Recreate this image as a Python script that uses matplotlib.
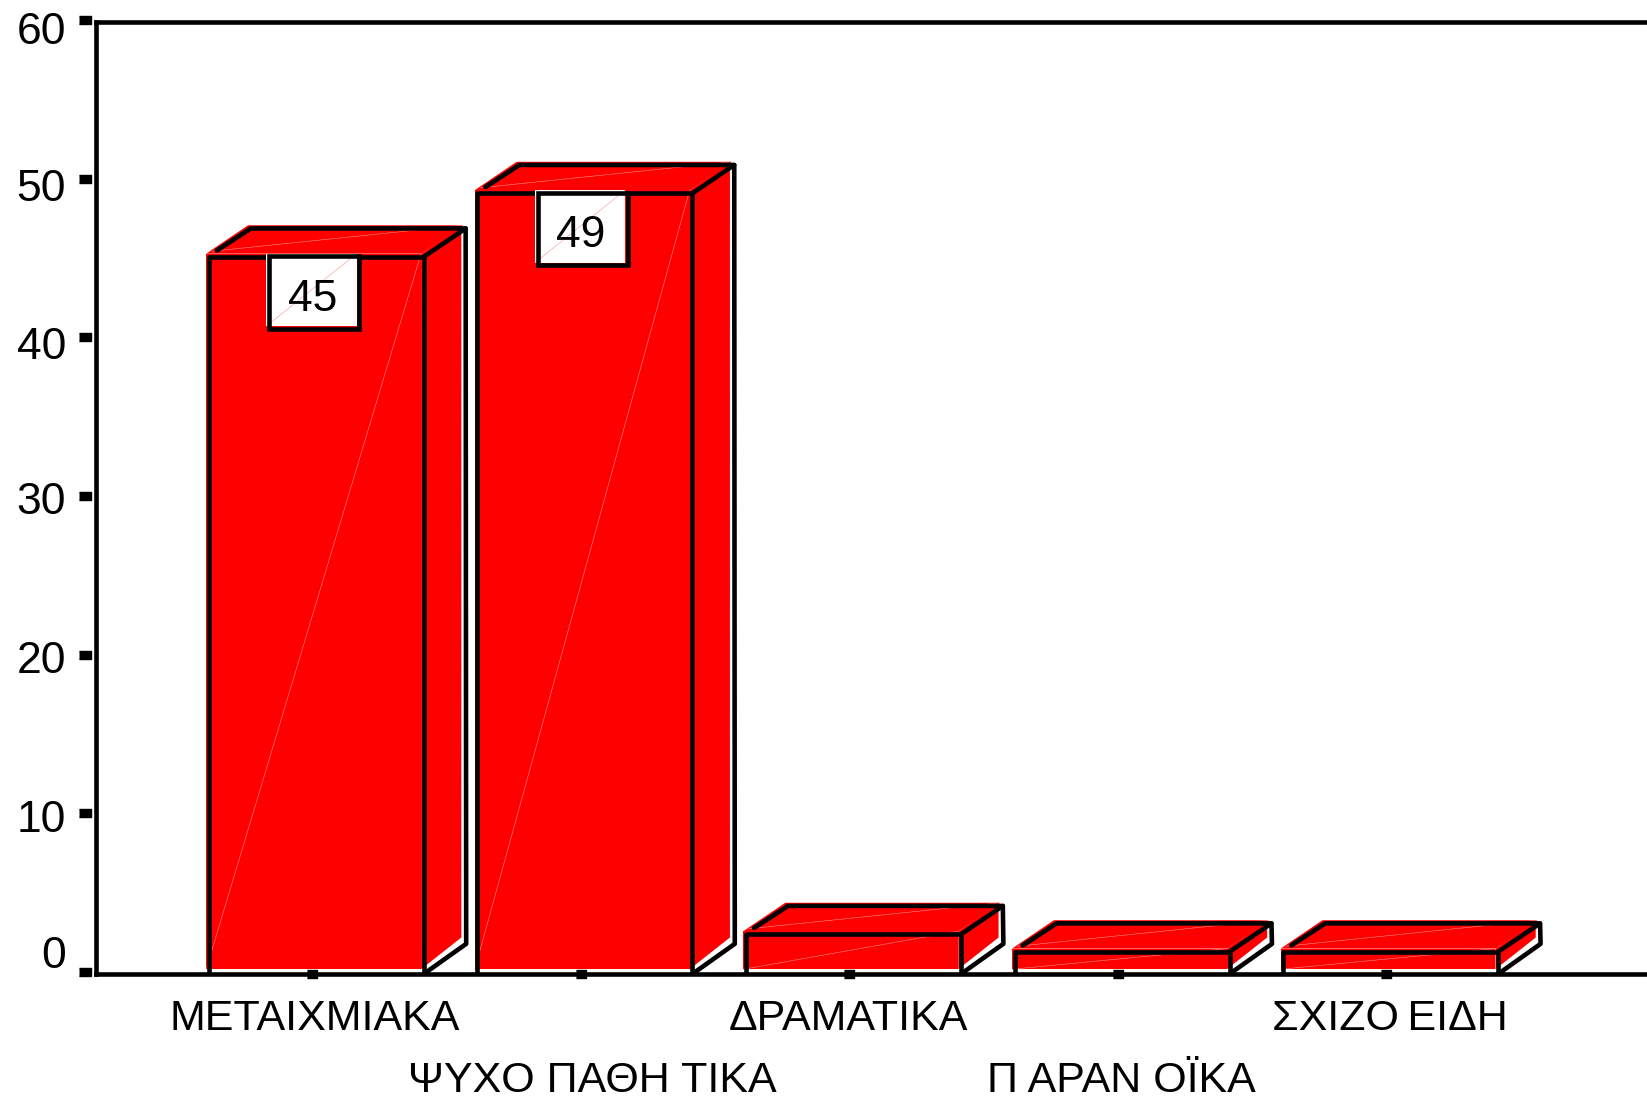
import matplotlib
matplotlib.use("Agg")
from matplotlib import pyplot as plt
from matplotlib.patches import Polygon, Rectangle
from matplotlib.transforms import ScaledTranslation
import numpy as np

categories = ['ΜΕΤΑΙΧΜΙΑΚΑ', 'ΨΥΧΟ ΠΑΘΗ ΤΙΚΑ', 'ΔΡΑΜΑΤΙΚΑ', 'Π ΑΡΑΝ ΟΪΚΑ', 'ΣΧΙΖΟ\u2009ΕΙΔΗ']
values = [45.4, 49.4, 2.7, 1.6, 1.6]
value_labels = ['45', '49', None, None, None]
y_ticks = [0, 10, 20, 30, 40, 50, 60]
# how far each y label sits from its tick, in pixels (up is positive)
y_label_shift = [17, -5, -5, -4, -8, -9, -10]
# sideways nudge of each x label, in pixels
x_label_shift = [3, 12, -1, 4, 3]

W, H = 1647, 1102
RED = '#ff0000'
FAINT = '#ff9090'
width = 0.8
depth_x = 0.156
depth_y = 1.79
off_x = 0.010     # black outline is drawn a bit off the red fill
off_y = 0.2
lw = 3.3

plt.rcParams['font.family'] = ['Liberation Sans', 'DejaVu Sans']

fig = plt.figure(figsize=(W / 100, H / 100), dpi=100)
left, right, top, bottom = 96, 1647, 22, 974
ax = fig.add_axes([left / W, 1 - bottom / H, (right - left) / W, (bottom - top) / H])
ax.set_ylim(0, 60)
ax.set_xlim((left - 312) / 268.6, (right - 312) / 268.6)

x = np.arange(len(categories))

# red front faces
ax.bar(x + 0.006, np.array(values) - 0.3, width, bottom=0.3, color=RED, linewidth=0, zorder=2)

for xi, v, lab in zip(x, values, value_labels):
    x0 = xi + 0.006 - width / 2
    x1 = x0 + width
    # top and side of the box
    ax.add_patch(Polygon([(x0, v), (x0 + depth_x, v + depth_y), (x1 + depth_x, v + depth_y), (x1, v)],
                         facecolor=RED, edgecolor='none', zorder=2))
    ax.add_patch(Polygon([(x1, v), (x1 + depth_x - 0.006, v + depth_y), (x1 + depth_x - 0.006, 2.3), (x1, 0.3)],
                         facecolor=RED, edgecolor='none', zorder=2))
    # thin light lines across the faces
    ax.plot([x0, x1], [0.3, v], color=FAINT, lw=0.4, zorder=3)
    ax.plot([x0 + 0.02, x1 + depth_x], [v + 0.15, v + depth_y], color=FAINT, lw=0.4, zorder=3)
    # black outline
    bx0, bx1 = x0 + off_x, x1 + off_x
    by = v - off_y
    line = dict(color='k', lw=lw, zorder=4, solid_capstyle='round', solid_joinstyle='round')
    ax.plot([bx0, bx0, bx1, bx1], [0, by, by, 0], **line)
    ax.plot([bx0 + 0.03, bx0 + depth_x, bx1 + depth_x, bx1],
            [by + 0.4, by + depth_y, by + depth_y, by], **line)
    ax.plot([bx1 + depth_x, bx1 + depth_x + 0.002, bx1], [by + depth_y, 1.9, 0], **line)
    # value box
    if lab:
        bw = 0.336
        bh = 4.57
        bx = xi - bw / 2 - 0.002
        ax.add_patch(Rectangle((bx, v - bh), bw, bh, facecolor='w', edgecolor='none', zorder=5))
        ax.add_patch(Rectangle((bx + off_x, v - 0.17 - bh), bw, bh, facecolor='none', edgecolor='k',
                               lw=lw, zorder=6))
        ax.plot([bx, bx + bw], [v - bh, v], color=FAINT, lw=0.4, zorder=5)
        ax.text(xi + 0.002, v - bh / 2 - 0.58, lab, ha='center', va='center', fontsize=32, zorder=7)

# axes lines
ax.spines['right'].set_visible(False)
for s in ['left', 'top', 'bottom']:
    ax.spines[s].set_linewidth(lw)

# small square tick marks, set off from the axis like the original
ax.tick_params(axis='both', length=0)
ax.set_yticks(y_ticks)
ax.set_yticklabels([])
mark = [(-1, -0.7), (1, -0.7), (1, 0.7), (-1, 0.7)]
ax.plot([-0.0071] * len(y_ticks), np.array(y_ticks) + 0.13, ls='none', marker=mark, ms=8.6, color='k',
        transform=ax.get_yaxis_transform(), clip_on=False, zorder=5)
ax.plot(x, [0] * len(x), ls='none', marker=mark, ms=7.5, color='k', clip_on=False, zorder=5)

for t, s in zip(y_ticks, y_label_shift):
    ax.annotate(str(t), (0, t), xycoords=ax.get_yaxis_transform(), xytext=(-21.5, s * 0.72),
                textcoords='offset points', ha='right', va='center', fontsize=32)

ax.set_xticks(x)
ax.set_xticklabels(categories, fontsize=31)
for i, (tick, s) in enumerate(zip(ax.xaxis.get_major_ticks(), x_label_shift)):
    tick.set_pad(18 if i % 2 == 0 else 63)
    tick.label1.set_transform(tick.label1.get_transform()
                              + ScaledTranslation(s / 100, 0, fig.dpi_scale_trans))

fig.savefig('out.png', dpi=100)
